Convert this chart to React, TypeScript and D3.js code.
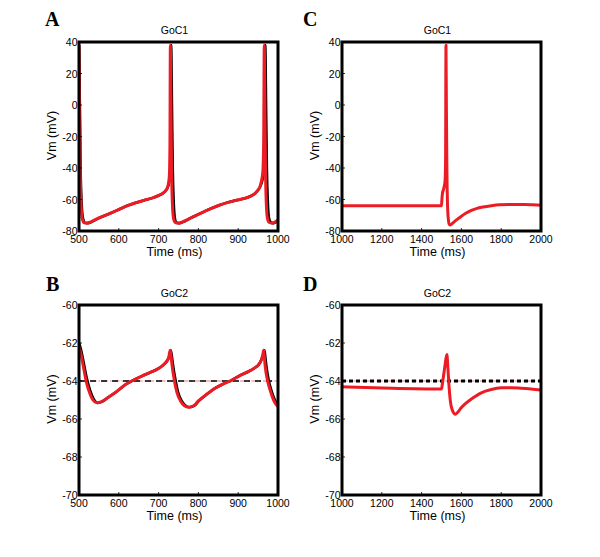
import React from "react";
import * as d3 from "d3";

type Pt = [number, number];

// ---------- Data ----------
const xTicksA = [500, 600, 700, 800, 900, 1000];
const xTicksC = [1000, 1200, 1400, 1600, 1800, 2000];
const yTicksGoC1 = [40, 20, 0, -20, -40, -60, -80];
const yTicksGoC2 = [-60, -62, -64, -66, -68, -70];

const aRed: Pt[] = [
  [500, 38], [501.5, 0], [503, -40], [505, -62], [508, -72], [513, -74.8], [520, -75], [530, -74.2],
  [545, -72.3], [561, -70.6], [582, -68.4], [603, -66], [624, -63.7], [645, -61.9], [666, -60.3],
  [687, -58.8], [699, -57.6], [712, -55.8], [718, -54.3], [722, -52.5], [725, -49.5], [727, -45],
  [728.5, -25], [729.5, 38], [731, 0], [732.5, -40], [734.5, -62], [737.5, -72], [742, -74.6],
  [750, -75], [760, -74.2], [775, -72.4], [791, -70.5], [812, -68], [833, -65.6], [854, -63.5],
  [875, -61.8], [896, -60.4], [917, -59.2], [930, -58], [942, -56.2], [950, -54], [955, -51.5],
  [959, -47.5], [962, -42], [964, -22], [965.5, 38], [967, 0], [968.5, -40], [970.5, -62],
  [973.5, -72], [978, -74.6], [985, -75], [993, -74.2], [1000, -73],
];

const aBlack: Pt[] = [
  [500, 38], [502, 0], [504, -40], [506.5, -62], [510, -72], [515, -74.8], [522, -75], [532, -74.2],
  [546, -72.3], [561, -70.6], [582, -68.4], [603, -66], [624, -63.7], [645, -61.9], [666, -60.3],
  [687, -58.8], [699, -57.6], [712, -55.8], [718, -54.3], [722.5, -52.5], [726, -49.5], [728.5, -45],
  [730.5, -25], [731.5, 38], [733.5, 0], [735.5, -40], [738, -62], [741, -72], [745, -74.6],
  [753, -75], [762, -74.2], [776, -72.4], [791, -70.5], [812, -68], [833, -65.6], [854, -63.5],
  [875, -61.8], [896, -60.4], [917, -59.2], [930, -58], [942, -56.2], [950, -54], [956, -51.5],
  [961, -47.5], [964.5, -42], [966.5, -22], [968, 38], [970, 0], [972, -40], [974.5, -62],
  [977.5, -72], [982, -74.6], [988, -75], [995, -74.3], [1000, -73.3],
];

const bRed: Pt[] = [
  [500, -62.2], [505, -62.6], [511, -63.25], [519, -64.1], [528, -64.7], [535, -65.0], [545, -65.15],
  [555, -65.1], [574, -64.85], [595, -64.55], [616, -64.2], [637, -63.95], [658, -63.74], [679, -63.55],
  [700, -63.34], [712, -63.15], [721, -62.95], [726, -62.7], [729, -62.38], [731, -62.65], [734, -63.2],
  [738, -63.78], [746, -64.6], [755, -65.05], [765, -65.3], [775, -65.38], [788, -65.3], [800, -65.05],
  [821, -64.7], [842, -64.38], [863, -64.15], [884, -63.95], [905, -63.7], [926, -63.5], [942, -63.3],
  [951, -63.15], [958, -62.9], [962, -62.6], [964, -62.38], [966, -62.8], [968, -63.25], [974, -64.0],
  [980, -64.47], [987, -64.9], [993, -65.17], [1000, -65.35],
];

const bBlack: Pt[] = [
  [500, -62.0], [505, -62.35], [511, -62.95], [519, -63.8], [528, -64.5], [537, -64.95], [547, -65.15],
  [557, -65.1], [574, -64.85], [595, -64.55], [616, -64.2], [637, -63.95], [658, -63.74], [679, -63.55],
  [700, -63.34], [712, -63.15], [721, -62.95], [727, -62.7], [730.5, -62.38], [733, -62.65], [736.5, -63.2],
  [741, -63.78], [749, -64.6], [758, -65.05], [768, -65.3], [778, -65.38], [790, -65.3], [801, -65.05],
  [821, -64.7], [842, -64.38], [863, -64.15], [884, -63.95], [905, -63.7], [926, -63.5], [942, -63.3],
  [951, -63.15], [958, -62.9], [963, -62.6], [966, -62.38], [968.5, -62.8], [971, -63.25], [977, -64.0],
  [983, -64.47], [990, -64.9], [996, -65.17], [1000, -65.3],
];

const cRed: Pt[] = [
  [1000, -64], [1250, -64], [1500, -64], [1502, -60], [1505, -56], [1509, -54], [1514, -51.5],
  [1518, -48], [1520.5, -35], [1522.5, 38], [1524.5, 0], [1527, -40], [1530, -62], [1534, -72],
  [1539, -75.8], [1545, -76.2], [1552, -75.5], [1565, -74], [1582, -72.3], [1600, -70.6],
  [1624, -68.6], [1650, -66.9], [1675, -65.8], [1708, -64.8], [1750, -63.9], [1792, -63.3],
  [1840, -63.1], [1876, -63.1], [1920, -63.2], [1960, -63.4], [2000, -63.6],
];

const dRed: Pt[] = [
  [1000, -64.3], [1250, -64.38], [1500, -64.42], [1505, -64.1], [1512, -63.6], [1520, -63.0],
  [1527, -62.6], [1532, -63.3], [1538, -64.3], [1545, -65.1], [1555, -65.55], [1570, -65.75],
  [1585, -65.6], [1600, -65.4], [1625, -65.15], [1650, -64.95], [1700, -64.62], [1750, -64.45],
  [1800, -64.36], [1850, -64.35], [1900, -64.38], [1950, -64.42], [2000, -64.47],
];

const restingGoC2 = -64;

// ---------- Component ----------
const RED = "#ed1c24";
const SANS = "'Liberation Sans', Arial, Helvetica, sans-serif";
const SERIF = "'Liberation Serif', 'Times New Roman', serif";

type PanelProps = {
  id: string;
  letter: string;
  letterX: number;
  letterY: number;
  title: string;
  x0: number; x1: number; y0: number; y1: number;
  xDomain: [number, number];
  yDomain: [number, number];
  xTicks: number[];
  yTicks: number[];
  black?: Pt[];
  red: Pt[];
  refLine?: number;
  refBlackWidth?: number;
  refBlackDash?: string;
};

function Panel(p: PanelProps) {
  const x = d3.scaleLinear().domain(p.xDomain).range([p.x0, p.x1]);
  const y = d3.scaleLinear().domain(p.yDomain).range([p.y1, p.y0]);
  const line = d3
    .line<Pt>()
    .x((d) => x(d[0]))
    .y((d) => y(d[1]))
    .curve(d3.curveMonotoneX);
  const midX = (p.x0 + p.x1) / 2;
  const midY = (p.y0 + p.y1) / 2;
  return (
    <g>
      <defs>
        <clipPath id={`clip-${p.id}`}>
          <rect x={p.x0} y={p.y0} width={p.x1 - p.x0} height={p.y1 - p.y0} />
        </clipPath>
      </defs>
      <text x={p.letterX} y={p.letterY} fontFamily={SERIF} fontWeight="bold" fontSize={20}>
        {p.letter}
      </text>
      <text x={midX - 4} y={p.y0 - 8} fontFamily={SANS} fontSize={10.5} textAnchor="middle">
        {p.title}
      </text>
      <g clipPath={`url(#clip-${p.id})`}>
        {p.refLine !== undefined && (
          <>
            <line
              x1={p.x0} x2={p.x1} y1={y(p.refLine)} y2={y(p.refLine)}
              stroke="#f07a80" strokeWidth={1.2} strokeDasharray="6,2,1.5,2"
            />
            <line
              x1={p.x0} x2={p.x1} y1={y(p.refLine)} y2={y(p.refLine)}
              stroke="#000" strokeWidth={p.refBlackWidth ?? 1.5}
              strokeDasharray={p.refBlackDash ?? "6,5"}
            />
          </>
        )}
        {p.black && (
          <path d={line(p.black) ?? ""} fill="none" stroke="#000" strokeWidth={2.6} strokeLinejoin="round" />
        )}
        <path d={line(p.red) ?? ""} fill="none" stroke={RED} strokeWidth={3} strokeLinejoin="round" />
      </g>
      {p.xTicks.map((t) => (
        <g key={`xt${t}`}>
          <line x1={x(t)} x2={x(t)} y1={p.y1} y2={p.y1 - 3} stroke="#000" strokeWidth={0.8} />
          <text x={x(t)} y={p.y1 + 12} fontFamily={SANS} fontSize={10.5} textAnchor="middle">
            {t}
          </text>
        </g>
      ))}
      {p.yTicks.map((t) => (
        <g key={`yt${t}`}>
          <line x1={p.x0} x2={p.x0 + 3} y1={y(t)} y2={y(t)} stroke="#000" strokeWidth={0.8} />
          <text
            x={p.x0 - 1.5} y={y(t)} fontFamily={SANS} fontSize={10.5}
            textAnchor="end" dominantBaseline="central"
          >
            {t}
          </text>
        </g>
      ))}
      <text x={midX - 4} y={p.y1 + 25} fontFamily={SANS} fontSize={12.5} textAnchor="middle">
        Time (ms)
      </text>
      <text
        transform={`translate(${p.x0 - 27},${midY - 1}) rotate(-90)`}
        fontFamily={SANS} fontSize={12.5} textAnchor="middle" dominantBaseline="central"
      >
        Vm (mV)
      </text>
      <rect
        x={p.x0} y={p.y0} width={p.x1 - p.x0} height={p.y1 - p.y0}
        fill="none" stroke="#000" strokeWidth={3}
      />
    </g>
  );
}

export default function App() {
  return (
    <svg
      width={600}
      height={557}
      style={{ position: "absolute", left: 0, top: 0, background: "#fff" }}
    >
      <rect x={0} y={0} width={600} height={557} fill="#fff" />
      <Panel
        id="A" letter="A" letterX={45} letterY={26} title="GoC1"
        x0={79} x1={278} y0={42} y1={231}
        xDomain={[500, 1000]} yDomain={[-80, 40]}
        xTicks={xTicksA} yTicks={yTicksGoC1}
        black={aBlack} red={aRed}
      />
      <Panel
        id="C" letter="C" letterX={303} letterY={26} title="GoC1"
        x0={342} x1={541} y0={42} y1={231}
        xDomain={[1000, 2000]} yDomain={[-80, 40]}
        xTicks={xTicksC} yTicks={yTicksGoC1}
        red={cRed}
      />
      <Panel
        id="B" letter="B" letterX={46} letterY={291} title="GoC2"
        x0={79} x1={278} y0={305} y1={495}
        xDomain={[500, 1000]} yDomain={[-70, -60]}
        xTicks={xTicksA} yTicks={yTicksGoC2}
        black={bBlack} red={bRed} refLine={restingGoC2}
      />
      <Panel
        id="D" letter="D" letterX={303} letterY={291} title="GoC2"
        x0={342} x1={541} y0={305} y1={495}
        xDomain={[1000, 2000]} yDomain={[-70, -60]}
        xTicks={xTicksC} yTicks={yTicksGoC2}
        red={dRed} refLine={restingGoC2} refBlackWidth={3} refBlackDash="4,3"
      />
    </svg>
  );
}
